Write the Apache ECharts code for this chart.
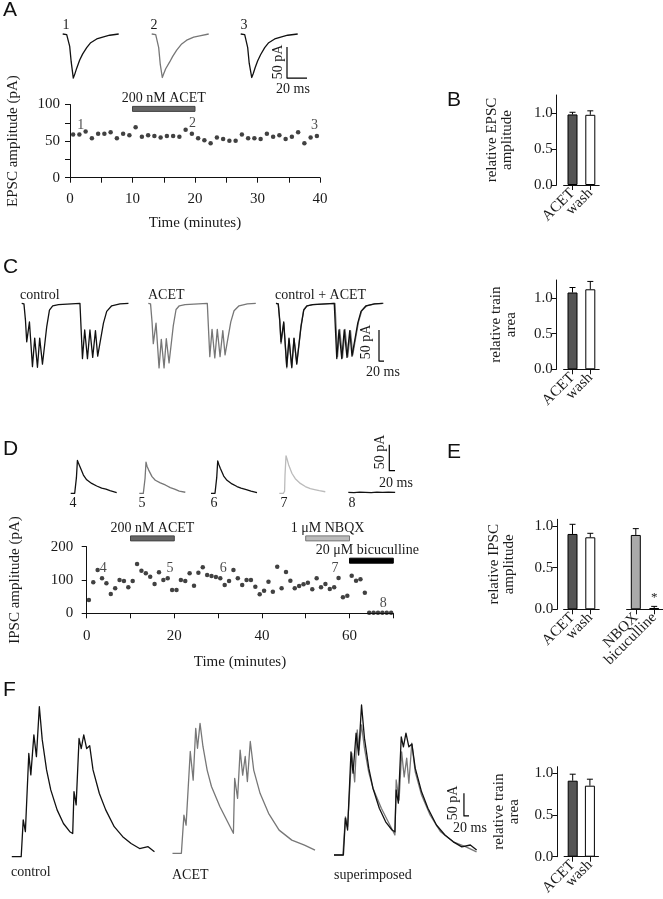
<!DOCTYPE html>
<html><head><meta charset="utf-8">
<script src="https://cdn.jsdelivr.net/npm/echarts@6/dist/echarts.min.js"></script>
<style>html,body{margin:0;padding:0;background:#fff}#c{width:663px;height:899px}</style>
</head><body><div id="c"></div>
<script>
// ================= DATA =================
// Panel A: EPSC amplitude time course
const epscTime = [0.5,1.5,2.5,3.5,4.5,5.5,6.5,7.5,8.5,9.5,10.5,11.5,12.5,13.5,14.5,15.5,16.5,17.5,18.5,19.5,20.5,21.5,22.5,23.5,24.5,25.5,26.5,27.5,28.5,29.5,30.5,31.5,32.5,33.5,34.5,35.5,36.5,37.5,38.5,39.5];
const epscAmp = [59,59,63,54,60,60,62,54,60,58,69,56,58,57,55,57,57,56,65.5,60,54,51,47,55,53,50.5,50.5,59,54,54,53,60,56,58,53,56,62,47,55,57];
const epscXTicks = [0,10,20,30,40];
const epscYTicks = [0,50,100];
// Panel A: example EPSC traces (ms, pA)
const epscTrace1 = [[0,0],[2,0],[4,-1],[5.5,-4],[7,-20],[8.5,-45],[10.6,-71],[12,-65],[14,-55],[17,-42],[20,-32],[24,-22],[28,-14],[34,-8],[40,-5],[47,-2],[56,0]];
const epscTrace2 = [[0,0],[2,0],[4,-1],[5.5,-4],[7,-22],[8.5,-48],[10.6,-70],[12,-64],[14,-56],[18,-45],[21,-36],[25,-26],[30,-16],[35,-10],[42,-5],[48,-3],[57,0]];
const epscTrace3 = [[0,0],[2,0],[4,-1],[5.5,-4],[7,-22],[8.5,-47],[11,-70],[12.5,-64],[14.5,-54],[17,-43],[20,-33],[24,-22],[28,-14],[34,-8],[40,-5],[47,-2],[57,0]];
// Panel B
const barCats = ['ACET','wash'];
const epscRel = [0.98, 0.975];
const epscRelErr = [0.03, 0.055];
// Panel C: train traces (ms, pA)
const trainControl = [[0,0],[9,-1],[15,-27],[20,-62],[31,-30],[43,-102],[52,-56],[63,-103],[72,-56],[83,-98],[91,-70],[100,-38],[111,-11],[124,-4],[147,-2],[233,0],[237,0],[243,-89],[252,-43],[263,-89],[273,-43],[284,-87],[295,-44],[304,-85],[313,-64],[327,-32],[340,-13],[360,-4],[393,-1],[427,0]];
const trainAcet = [[0,0],[9,-1],[15,-30],[20,-65],[31,-32],[43,-104],[52,-58],[63,-104],[72,-57],[83,-96],[91,-68],[100,-36],[111,-10],[124,-4],[147,-2],[236,0],[240,0],[246,-86],[255,-42],[266,-88],[276,-42],[287,-86],[298,-44],[307,-83],[316,-62],[330,-30],[343,-12],[363,-4],[396,-1],[430,0]];
const trainRel = [1.075, 1.12];
const trainRelErr = [0.07, 0.11];
// Panel D: IPSC amplitude time course
const ipscTime = [0.5,1.5,2.5,3.5,4.5,5.5,6.5,7.5,8.5,9.5,10.5,11.5,12.5,13.5,14.5,15.5,16.5,17.5,18.5,19.5,20.5,21.5,22.5,23.5,24.5,25.5,26.5,27.5,28.5,29.5,30.5,31.5,32.5,33.5,34.5,35.5,36.5,37.5,38.5,39.5,40.5,41.5,42.5,43.5,44.5,45.5,46.5,47.5,48.5,49.5,50.5,51.5,52.5,53.5,54.5,55.5,56.5,57.5,58.5,59.5,60.5,61.5,62.5,63.5,64.5,65.5,66.5,67.5,68.5,69.5];
const ipscAmp = [40,93,130,105,90,58,75,100,97,78, 97,148,128,120,110,88,123,100,105,70, 70,100,97,120,83,122,138,115,112,109, 105,85,97,130,105,85,100,100,80,57, 68,95,65,140,75,124,98,75,82,87, 92,72,105,78,88,73,78,106,48,53, 113,98,102,62,2,2,2,2,2,2];
const ipscXLabels = [0,20,40,60];
const ipscXTicks = [0,10,20,30,40,50,60,70];
const ipscYTicks = [0,100,200];
// Panel D: IPSC traces (ms, pA)
const ipscTrace4 = [[0,0],[14,0],[18.5,3],[20,30],[23.5,63],[27,58],[32.5,51],[44.5,35],[56,26],[73.5,19],[91,14],[108.5,10],[123.5,8],[128.5,11.5],[137.5,5],[161,1.5]];
const ipscTrace5 = [[0,0],[14,0],[18.5,3],[20,28],[23.5,60],[27,52],[32.5,45],[44.5,32],[56,25],[73.5,20],[91,16],[108.5,11],[123.5,8],[130,9],[140,4],[161,2]];
const ipscTrace6 = [[0,0],[14,0],[18.5,3],[20,30],[23.5,62],[27,56],[32.5,48],[44.5,33],[56,25],[73.5,18],[91,13],[105,10],[112,12],[123.5,7],[140,4],[161,1.5]];
const ipscTrace7 = [[0,0],[14,0],[18.5,4],[20,35],[23.5,72],[27,66],[32.5,55],[44.5,38],[56,28],[73.5,19],[91,13],[108.5,9],[123.5,7],[140,5],[161,3]];
const ipscTrace8 = [[0,0],[20,-0.5],[40,0.5],[60,0],[80,-0.5],[100,0.5],[120,0],[140,0.5],[164,0]];
// Panel E
const ipscCats1 = ['ACET','wash'];
const ipscCats2 = ['NBQX','bicuculline'];
const ipscRel1 = [0.904, 0.864];
const ipscRelErr1 = [0.116, 0.048];
const ipscRel2 = [0.892, 0.015];
const ipscRelErr2 = [0.076, 0.02];
// Panel F: IPSC train traces (ms, pA)
const ipscTrainControl = [[0,0],[37,0],[45,81],[53.5,55],[67,227],[75,180],[87,268],[97,220],[108.5,330],[120,257],[137,191],[153.5,147],[178.5,103],[203.5,73],[228.5,55],[240,51],[245,143],[253.5,114],[265,260],[273.5,238],[283.5,268],[295,238],[307,244],[320,191],[345,139],[370,103],[403.5,66],[437,44],[470,29],[503.5,18],[537,22],[562,11]];
const ipscTrainAcet = [[0,0],[35,0],[45,84],[53.5,62],[70,224],[81.5,161],[91.5,275],[98.5,231],[108.5,286],[120,235],[136.5,183],[153.5,147],[186.5,103],[220,66],[240,44],[245,165],[256.5,121],[266.5,227],[276.5,172],[286.5,213],[295,158],[306.5,246],[320,183],[345,132],[378.5,88],[420,51],[470,29],[520,18],[561.5,7]];
const ipscTrainRel = [0.912, 0.852];
const ipscTrainRelErr = [0.078, 0.078];

// ================= BUILD =================
const SERIF = "'Liberation Serif', 'Times New Roman', serif";
const SANS = "'Liberation Sans', Arial, sans-serif";
const TXT = '#1a1a1a';
const grids = [], xAxes = [], yAxes = [], series = [], graphics = [];

function addGrid(g){ g.outerBoundsMode = 'none'; g.containLabel = false; grids.push(g); return grids.length - 1; }
function traceGrid(left, baseY, s){
  const gi = addGrid({left, top: baseY - s.yMax / s.paPx, width: s.xMax / s.msPx, height: (s.yMax - s.yMin) / s.paPx});
  xAxes.push({gridIndex: gi, type: 'value', min: 0, max: s.xMax, show: false});
  yAxes.push({gridIndex: gi, type: 'value', min: s.yMin, max: s.yMax, show: false});
  return gi;
}
function addTrace(gi, data, color, w){
  series.push({type: 'line', xAxisIndex: gi, yAxisIndex: gi, data, showSymbol: false, symbol: 'none', clip: false, silent: true,
    lineStyle: {color, width: w || 1.3, join: 'round'}});
}
function scaleBar(gi, x, y, ms, pa){
  addTrace(gi, [[x, y + pa], [x, y], [x + ms, y]], '#000', 1.2);
}
function txt(x, y, text, o){
  o = o || {};
  const font = (o.size || 14) + 'px ' + (o.family || SERIF);
  graphics.push({type: 'text', x, y, rotation: o.rot || 0, silent: true,
    style: {text, font, fill: TXT, align: o.align || 'center', verticalAlign: 'middle', textAlign: o.align || 'center', textVerticalAlign: 'middle'}});
}
const axisLineStyle = {color: '#111', width: 1};
const tickLbl = {fontFamily: SERIF, fontSize: 15, color: TXT};

function errRender(params, api){
  const x = api.value(0), v = api.value(1), e = api.value(2);
  const p0 = api.coord([x, v]), p1 = api.coord([x, v + e]);
  return {type: 'group', children: [
    {type: 'line', shape: {x1: p0[0], y1: p0[1], x2: p1[0], y2: p1[1]}, style: {stroke: '#000', lineWidth: 1}},
    {type: 'line', shape: {x1: p1[0] - 3, y1: p1[1], x2: p1[0] + 3, y2: p1[1]}, style: {stroke: '#000', lineWidth: 1}}
  ]};
}
function barPanel(o){
  const gi = addGrid({left: o.left, top: o.top, width: o.width, height: o.height});
  xAxes.push({gridIndex: gi, type: 'category', data: o.cats, offset: 1,
    axisLine: {show: true, lineStyle: axisLineStyle},
    axisTick: {show: true, alignWithLabel: true, length: 5, lineStyle: axisLineStyle},
    axisLabel: Object.assign({rotate: 45, interval: 0, margin: 5}, tickLbl), splitLine: {show: false}});
  yAxes.push({gridIndex: gi, type: 'value', min: 0, max: o.yMax, show: o.showY !== false, offset: o.yOff || 0,
    axisLine: {show: true, lineStyle: axisLineStyle},
    axisTick: {show: true, length: 5, customValues: [0, 0.5, 1], lineStyle: axisLineStyle},
    axisLabel: Object.assign({customValues: [0, 0.5, 1], formatter: v => v.toFixed(1), margin: 4}, tickLbl),
    splitLine: {show: false},
    name: o.name || '', nameLocation: 'middle', nameRotate: 90, nameGap: o.nameGap || 40,
    nameTextStyle: {fontFamily: SERIF, fontSize: 15, color: TXT, lineHeight: 15}});
  series.push({type: 'bar', xAxisIndex: gi, yAxisIndex: gi, barWidth: o.barW || 10,
    data: o.vals.map((v, i) => ({value: v, itemStyle: {color: o.colors[i], borderColor: '#000', borderWidth: 1}}))});
  series.push({type: 'custom', xAxisIndex: gi, yAxisIndex: gi, z: 3, clip: false,
    data: o.vals.map((v, i) => [i, v, o.errs[i]]), renderItem: errRender});
  return gi;
}
function drugSeries(gi, drugs){
  series.push({type: 'custom', xAxisIndex: gi, yAxisIndex: gi, clip: false, z: 4, silent: true,
    data: drugs.map(d => [d.from, d.to, d.level]),
    renderItem: function(params, api){
      const d = drugs[params.dataIndex];
      const a = api.coord([api.value(0), api.value(2)]), b = api.coord([api.value(1), api.value(2)]);
      return {type: 'group', children: [
        {type: 'rect', shape: {x: a[0], y: a[1] - 2.5, width: b[0] - a[0], height: 5}, style: {fill: d.fill, stroke: d.stroke, lineWidth: 1}},
        {type: 'text', x: (a[0] + b[0]) / 2 + (d.dx || 0), y: a[1] - 10.5,
          style: {text: d.name, font: '14px ' + SERIF, fill: TXT, align: 'center', verticalAlign: 'middle', textAlign: 'center', textVerticalAlign: 'middle'}}
      ]};
    }});
}
function numLabels(gi, items){
  series.push({type: 'scatter', xAxisIndex: gi, yAxisIndex: gi, symbolSize: 0, clip: false, silent: true, z: 5,
    data: items.map(it => ({name: it[2], value: [it[0], it[1]]})),
    label: {show: true, position: 'inside', formatter: '{b}', fontFamily: SERIF, fontSize: 14, color: TXT}});
}

// ---------- Panel A ----------
const gA = addGrid({left: 70, top: 104.5, width: 250, height: 73.2});
xAxes.push({gridIndex: gA, type: 'value', min: 0, max: 40, offset: 6.5,
  axisLine: {show: true, lineStyle: axisLineStyle},
  axisTick: {show: true, length: 5, customValues: [0,5,10,15,20,25,30,35,40], lineStyle: axisLineStyle},
  axisLabel: Object.assign({customValues: epscXTicks, margin: 7}, tickLbl), splitLine: {show: false},
  name: 'Time (minutes)', nameLocation: 'middle', nameGap: 31, nameTextStyle: {fontFamily: SERIF, fontSize: 15, color: TXT}});
yAxes.push({gridIndex: gA, type: 'value', min: 0, max: 100, offset: 6,
  axisLine: {show: true, lineStyle: axisLineStyle},
  axisTick: {show: true, length: 5, customValues: [0,25,50,75,100], lineStyle: axisLineStyle},
  axisLabel: Object.assign({customValues: epscYTicks, margin: 4}, tickLbl), splitLine: {show: false},
  name: 'EPSC amplitude (pA)', nameLocation: 'middle', nameRotate: 90, nameGap: 43, nameTextStyle: {fontFamily: SERIF, fontSize: 15, color: TXT}});
series.push({type: 'scatter', xAxisIndex: gA, yAxisIndex: gA, symbolSize: 4.5, itemStyle: {color: '#111'},
  data: epscTime.map((t, i) => [t, epscAmp[i]])});
drugSeries(gA, [{name: '200 nM ACET', from: 10, to: 20, level: 94, fill: '#666', stroke: '#444'}]);
numLabels(gA, [[1.7, 72, '1'], [19.6, 74, '2'], [39.1, 72, '3']]);

const specA = {xMax: 70, yMin: -80, yMax: 8, msPx: 1, paPx: 1.61};
const gA1 = traceGrid(62.7, 34, specA); addTrace(gA1, epscTrace1, '#111');
const gA2 = traceGrid(151.7, 34, specA); addTrace(gA2, epscTrace2, '#777');
const gA3 = traceGrid(240.7, 34, specA); addTrace(gA3, epscTrace3, '#111');
scaleBar(gA3, 46.3, -71, 20, 50);
txt(66, 25, '1'); txt(154, 25, '2'); txt(244, 25, '3');
txt(278, 62, '50 pA', {rot: Math.PI / 2}); txt(293, 89, '20 ms');

// ---------- Panel B ----------
barPanel({left: 563.6, top: 95, width: 35.6, height: 90, yMax: 1.25, yOff: 6.9, cats: barCats, vals: epscRel, errs: epscRelErr,
  colors: ['#555', '#fff'], name: 'relative EPSC\namplitude', nameGap: 42});

// ---------- Panel C ----------
const specC = {xMax: 440, yMin: -115, yMax: 8, msPx: 4, paPx: 1.61};
const gC1 = traceGrid(21.7, 303.3, specC); addTrace(gC1, trainControl, '#111');
const gC2 = traceGrid(148.3, 303.3, specC); addTrace(gC2, trainAcet, '#777');
const gC3 = traceGrid(276, 303.3, specC); addTrace(gC3, trainAcet, '#777'); addTrace(gC3, trainControl, '#111');
scaleBar(gC3, 412, -93, 20, 50);
txt(20, 295, 'control', {align: 'left'}); txt(148, 295, 'ACET', {align: 'left'}); txt(275, 295, 'control + ACET', {align: 'left'});
txt(366, 342, '50 pA', {rot: Math.PI / 2}); txt(383, 372.5, '20 ms');
barPanel({left: 563.6, top: 280, width: 35.6, height: 89.3, yMax: 1.25, yOff: 6.9, cats: barCats, vals: trainRel, errs: trainRelErr,
  colors: ['#555', '#fff'], name: 'relative train\narea', nameGap: 38});

// ---------- Panel D ----------
const gD = addGrid({left: 86.7, top: 546.7, width: 306.6, height: 66.6});
xAxes.push({gridIndex: gD, type: 'value', min: 0, max: 70, offset: 8.4,
  axisLine: {show: true, lineStyle: axisLineStyle},
  axisTick: {show: true, length: 5, customValues: ipscXTicks, lineStyle: axisLineStyle},
  axisLabel: Object.assign({customValues: ipscXLabels, margin: 7}, tickLbl), splitLine: {show: false},
  name: 'Time (minutes)', nameLocation: 'middle', nameGap: 33, nameTextStyle: {fontFamily: SERIF, fontSize: 15, color: TXT}});
yAxes.push({gridIndex: gD, type: 'value', min: 0, max: 200, offset: 9.4,
  axisLine: {show: true, lineStyle: axisLineStyle},
  axisTick: {show: true, length: 5, customValues: ipscYTicks, lineStyle: axisLineStyle},
  axisLabel: Object.assign({customValues: ipscYTicks, margin: 4}, tickLbl), splitLine: {show: false},
  name: 'IPSC amplitude (pA)', nameLocation: 'middle', nameRotate: 90, nameGap: 55, nameTextStyle: {fontFamily: SERIF, fontSize: 15, color: TXT}});
series.push({type: 'scatter', xAxisIndex: gD, yAxisIndex: gD, symbolSize: 4.5, itemStyle: {color: '#111'},
  data: ipscTime.map((t, i) => [t, ipscAmp[i]])});
drugSeries(gD, [
  {name: '200 nM ACET', from: 10, to: 20, level: 225, fill: '#666', stroke: '#444'},
  {name: '1 μM NBQX', from: 50, to: 60, level: 225, fill: '#bbb', stroke: '#777'},
  {name: '20 μM bicuculline', from: 60, to: 70, level: 158, fill: '#000', stroke: '#000', dx: -4}
]);
numLabels(gD, [[3.8, 135, '4'], [19, 135, '5'], [31.2, 135, '6'], [56.7, 135, '7'], [67.7, 30, '8']]);

const specD = {xMax: 170, yMin: -10, yMax: 100, msPx: 3.5, paPx: 1.92};
const gD4 = traceGrid(70.7, 493.3, specD); addTrace(gD4, ipscTrace4, '#111');
const gD5 = traceGrid(139.3, 493.3, specD); addTrace(gD5, ipscTrace5, '#777');
const gD6 = traceGrid(211, 493.3, specD); addTrace(gD6, ipscTrace6, '#111');
const gD7 = traceGrid(279.3, 493.3, specD); addTrace(gD7, ipscTrace7, '#bbb');
const gD8 = traceGrid(348.3, 492.3, specD); addTrace(gD8, ipscTrace8, '#111');
scaleBar(gD8, 143.5, 41.5, 20, 50);
txt(73, 503, '4'); txt(142, 503, '5'); txt(214, 503, '6'); txt(284, 503, '7'); txt(352, 503, '8');
txt(380, 452, '50 pA', {rot: Math.PI / 2}); txt(396, 483, '20 ms');

// ---------- Panel E ----------
barPanel({left: 563.6, top: 519.3, width: 35.6, height: 90, yMax: 1.08, yOff: 6.3, cats: ipscCats1, vals: ipscRel1, errs: ipscRelErr1,
  colors: ['#555', '#fff'], name: 'relative IPSC\namplitude', nameGap: 41});
barPanel({left: 626.6, top: 519.3, width: 36.8, height: 90, yMax: 1.08, showY: false, cats: ipscCats2, vals: ipscRel2, errs: ipscRelErr2,
  colors: ['#aaa', '#888']});
txt(654.3, 598, '*', {size: 13});

// ---------- Panel F ----------
const specF = {xMax: 570, yMin: -10, yMax: 340, msPx: 3.94, paPx: 2.2};
const gF1 = traceGrid(11.8, 856.7, specF); addTrace(gF1, ipscTrainControl, '#111');
const gF2 = traceGrid(172.5, 853.3, specF); addTrace(gF2, ipscTrainAcet, '#777');
const gF3 = traceGrid(334, 855, specF); addTrace(gF3, ipscTrainAcet, '#777'); addTrace(gF3, ipscTrainControl, '#111');
scaleBar(gF3, 512, 86, 20, 50);
txt(11, 872, 'control', {align: 'left'}); txt(172, 875, 'ACET', {align: 'left'}); txt(334, 875, 'superimposed', {align: 'left'});
txt(453.5, 803, '50 pA', {rot: Math.PI / 2}); txt(470, 828, '20 ms');
barPanel({left: 564.1, top: 766.7, width: 34.4, height: 90, yMax: 1.08, yOff: 6.8, cats: barCats, vals: ipscTrainRel, errs: ipscTrainRelErr,
  colors: ['#555', '#fff'], name: 'relative train\narea', nameGap: 36, barW: 10});

// ---------- Panel letters ----------
[['A', 3, 10], ['B', 447, 100], ['C', 3, 267], ['D', 3, 449], ['E', 447, 452], ['F', 3, 690]].forEach(l => {
  graphics.push({type: 'text', x: l[1], y: l[2], silent: true,
    style: {text: l[0], font: '21px ' + SANS, fill: '#111', align: 'left', verticalAlign: 'middle', textAlign: 'left', textVerticalAlign: 'middle'}});
});

const chart = echarts.init(document.getElementById('c'), null, {renderer: 'canvas'});
chart.setOption({
  animation: false,
  backgroundColor: '#fff',
  textStyle: {fontFamily: SERIF},
  grid: grids, xAxis: xAxes, yAxis: yAxes, series: series, graphic: graphics
});
</script>
</body></html>
